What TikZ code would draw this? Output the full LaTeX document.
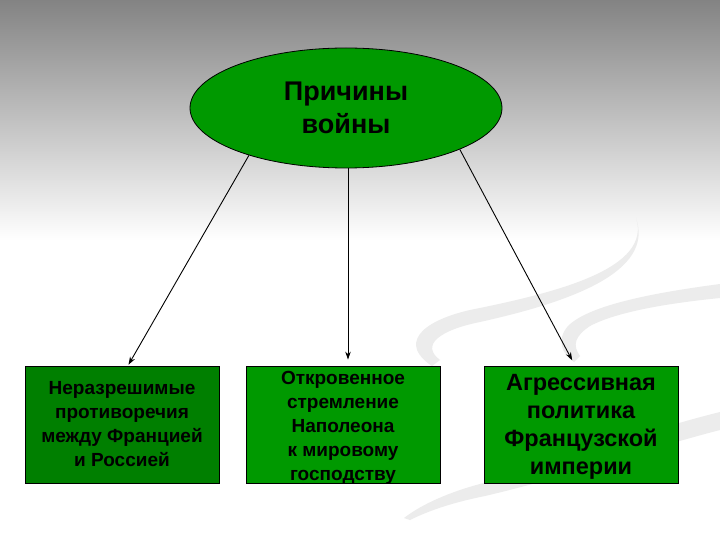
\documentclass[tikz,border=0pt]{standalone}
\usepackage{fontspec}
\setmainfont{Liberation Sans}
\usetikzlibrary{shapes.geometric,arrows.meta,calc}
\definecolor{ellgreen}{HTML}{009900}
\definecolor{boxgreen}{HTML}{009900}
\definecolor{boxdark}{HTML}{007F00}
\definecolor{bgtop}{HTML}{838383}
\definecolor{swoosh}{HTML}{ECECEC}
\tikzset{
  causebox/.style={draw=black, line width=0.8pt, rectangle, minimum width=194pt, minimum height=117pt, inner sep=0pt, align=center, text=black},
  link/.style={draw=black, line width=0.9pt, -{Stealth[length=8pt,width=5.5pt]}},
  band/.style={fill=swoosh, draw=none},
}
\begin{document}
\begin{tikzpicture}[x=1pt,y=-1pt]
\useasboundingbox (0,0) rectangle (720,540);
\fill[white] (0,0) rectangle (720,540);
\shade[top color=bgtop, bottom color=white] (0,0) rectangle (720,240);
% faint swooshes (tapered bands)
\fill[band] (636,218) .. controls (652,268) and (560,292) .. (470,310) .. controls (418,322) and (400,345) .. (432,366)
  -- (440,360) .. controls (420,345) and (440,330) .. (480,322) .. controls (570,302) and (655,272) .. (636,218) -- cycle;
\fill[band] (720,284) .. controls (660,292) and (590,304) .. (568,326) .. controls (556,340) and (562,354) .. (574,362)
  -- (580,356) .. controls (572,345) and (575,336) .. (590,326) .. controls (620,310) and (680,302) .. (720,298) -- cycle;
\fill[band] (720,412) .. controls (640,432) and (560,462) .. (480,484) .. controls (450,492) and (422,504) .. (404,518)
  -- (410,520) .. controls (430,510) and (455,502) .. (485,496) .. controls (570,476) and (650,448) .. (720,430) -- cycle;
% nodes
\node[ellipse, draw=black, line width=0.8pt, fill=ellgreen, minimum width=312pt, minimum height=120pt, inner sep=0pt, align=center, font=\fontsize{27}{33}\selectfont\bfseries] (ell) at (346,108) {Причины\\войны};
\node[causebox, fill=boxdark, font=\fontsize{19}{24}\selectfont\bfseries] (b1) at (122,424.5) {Неразрешимые\\противоречия\\между Францией\\и Россией};
\node[causebox, fill=boxgreen] (b2) at (343,424.5) {};
\node[align=center, inner sep=0pt, text=black, font=\fontsize{19}{24}\selectfont\bfseries] (b2t) at ([yshift=-3pt]b2.center) {Откровенное\\стремление\\Наполеона\\к мировому\\господству};
\node[causebox, fill=boxgreen] (b3) at (581,424.5) {};
\node[align=center, inner sep=0pt, text=black, font=\fontsize{23.5}{28}\selectfont\bfseries] (b3t) at ([yshift=-2pt]b3.center) {Агрессивная\\политика\\Французской\\империи};
% connectors
\draw[link, shorten >=1pt] (ell.206) -- ([xshift=6pt]b1.north);
\draw[link, shorten >=6pt] ([xshift=2pt]ell.south) -- ([xshift=5pt]b2.north);
\draw[link, shorten >=6pt] (ell.-20) -- ([xshift=-6pt]b3.north);
\end{tikzpicture}
\end{document}
